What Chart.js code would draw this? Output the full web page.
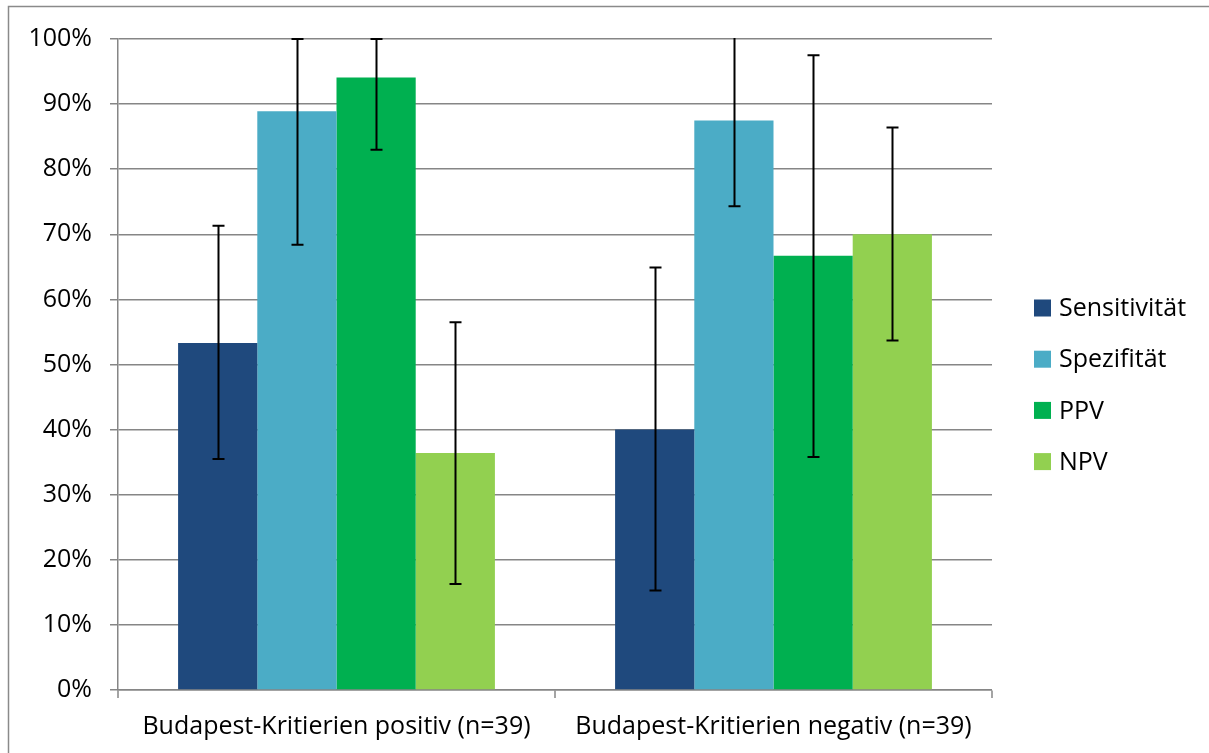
<!DOCTYPE html>
<html>
<head>
<meta charset="utf-8">
<script src="https://cdn.jsdelivr.net/npm/chart.js@4.4.0/dist/chart.umd.min.js"></script>
<style>
  html, body { margin: 0; padding: 0; background: #fff; }
  #wrap { width: 1209px; height: 753px; position: relative; }
</style>
</head>
<body>
<div id="wrap"><canvas id="myChart"></canvas></div>
<script>
// categories and series (percent)
const categories = ['Budapest-Kritierien positiv (n=39)', 'Budapest-Kritierien negativ (n=39)'];
const seriesNames = ['Sensitivität', 'Spezifität', 'PPV', 'NPV'];
const sensitivitaet = [53.3, 40.0];
const spezifitaet = [88.9, 87.5];
const ppv = [94.1, 66.7];
const npv = [36.4, 70.0];
// confidence intervals (lower / upper)
const sensLow = [35.5, 15.3], sensHigh = [71.3, 64.9];
const spezLow = [68.4, 74.3], spezHigh = [100, 101];
const ppvLow = [83.0, 35.8], ppvHigh = [100, 97.5];
const npvLow = [16.3, 53.7], npvHigh = [56.5, 86.4];
const yTicks = [0, 10, 20, 30, 40, 50, 60, 70, 80, 90, 100];

const colors = ['#1F497D', '#4BACC6', '#00B050', '#92D050'];
const values = [sensitivitaet, spezifitaet, ppv, npv];
const lows = [sensLow, spezLow, ppvLow, npvLow];
const highs = [sensHigh, spezHigh, ppvHigh, npvHigh];

const FONT = 'Open Sans';
const FSIZE = 25;

var datasets = [];
for (var i = 0; i < seriesNames.length; i++) {
    datasets.push({
        label: seriesNames[i],
        data: values[i],
        backgroundColor: colors[i],
        borderWidth: 0,
        categoryPercentage: 0.725,
        barPercentage: 1.0,
        errLow: lows[i],
        errHigh: highs[i]
    });
}

// error bars drawn from the y scale
const errorBars = {
    id: 'errorBars',
    afterDatasetsDraw(chart) {
        const ctx = chart.ctx;
        const y = chart.scales.y;
        const area = chart.chartArea;
        ctx.save();
        ctx.beginPath();
        ctx.rect(area.left, area.top - 1, area.right - area.left, area.bottom - area.top + 2);
        ctx.clip();
        ctx.strokeStyle = '#000';
        ctx.lineWidth = 2;
        chart.data.datasets.forEach((ds, di) => {
            const meta = chart.getDatasetMeta(di);
            meta.data.forEach((bar, j) => {
                const x = Math.round(bar.x) + 0.5;
                const yl = y.getPixelForValue(ds.errLow[j]);
                const yh = y.getPixelForValue(ds.errHigh[j]);
                ctx.beginPath();
                ctx.moveTo(x, yl);
                ctx.lineTo(x, yh);
                ctx.moveTo(x - 6, yl);
                ctx.lineTo(x + 6, yl);
                ctx.moveTo(x - 6, yh);
                ctx.lineTo(x + 6, yh);
                ctx.stroke();
            });
        });
        ctx.restore();
    }
};

// legend on the right + outer frame
const sideLegend = {
    id: 'sideLegend',
    afterDraw(chart) {
        const ctx = chart.ctx;
        ctx.save();
        ctx.strokeStyle = '#8a8a8a';
        ctx.lineWidth = 1.5;
        ctx.beginPath();
        ctx.moveTo(8.5, 760);
        ctx.lineTo(8.5, 6.5);
        ctx.lineTo(1220, 6.5);
        ctx.stroke();

        ctx.font = FSIZE + 'px "' + FONT + '"';
        ctx.textBaseline = 'middle';
        const top = 308;
        chart.data.datasets.forEach((ds, i) => {
            const cy = top + i * 51.2;
            ctx.fillStyle = ds.backgroundColor;
            ctx.fillRect(1034, cy - 8.5, 17, 17);
            ctx.fillStyle = '#000';
            ctx.fillText(ds.label, 1059, cy + 1);
        });
        ctx.restore();
    }
};

const config = {
    type: 'bar',
    data: { labels: categories, datasets: datasets },
    options: {
        responsive: false,
        animation: false,
        layout: { padding: { left: 0, right: 217, top: 39, bottom: 0 } },
        plugins: {
            legend: { display: false },
            tooltip: { enabled: false }
        },
        scales: {
            x: {
                afterFit(scale) { scale.height = 63; },
                grid: {
                    display: true,
                    offset: true,
                    color: '#868686',
                    lineWidth: 0,
                    drawOnChartArea: false,
                    tickLength: 8,
                    tickColor: '#868686',
                    tickWidth: 1.5
                },
                border: { color: '#868686', width: 1.5 },
                ticks: {
                    color: '#000',
                    font: { family: FONT, size: FSIZE },
                    padding: 14,
                    maxRotation: 0
                }
            },
            y: {
                min: 0,
                max: 100,
                afterBuildTicks(scale) {
                    scale.ticks = yTicks.map(v => ({ value: v }));
                },
                afterFit(scale) { scale.width = 118; },
                grid: {
                    color: '#868686',
                    lineWidth: 1.5,
                    tickLength: 8,
                    tickColor: '#868686'
                },
                border: { color: '#868686', width: 1.5 },
                ticks: {
                    color: '#000',
                    font: { family: FONT, size: FSIZE },
                    padding: 18,
                    callback: v => v + '%'
                }
            }
        }
    },
    plugins: [errorBars, sideLegend]
};

var canvas = document.getElementById('myChart');
canvas.width = 1209;
canvas.height = 753;
const chart = new Chart(canvas.getContext('2d'), config);
</script>
</body>
</html>
